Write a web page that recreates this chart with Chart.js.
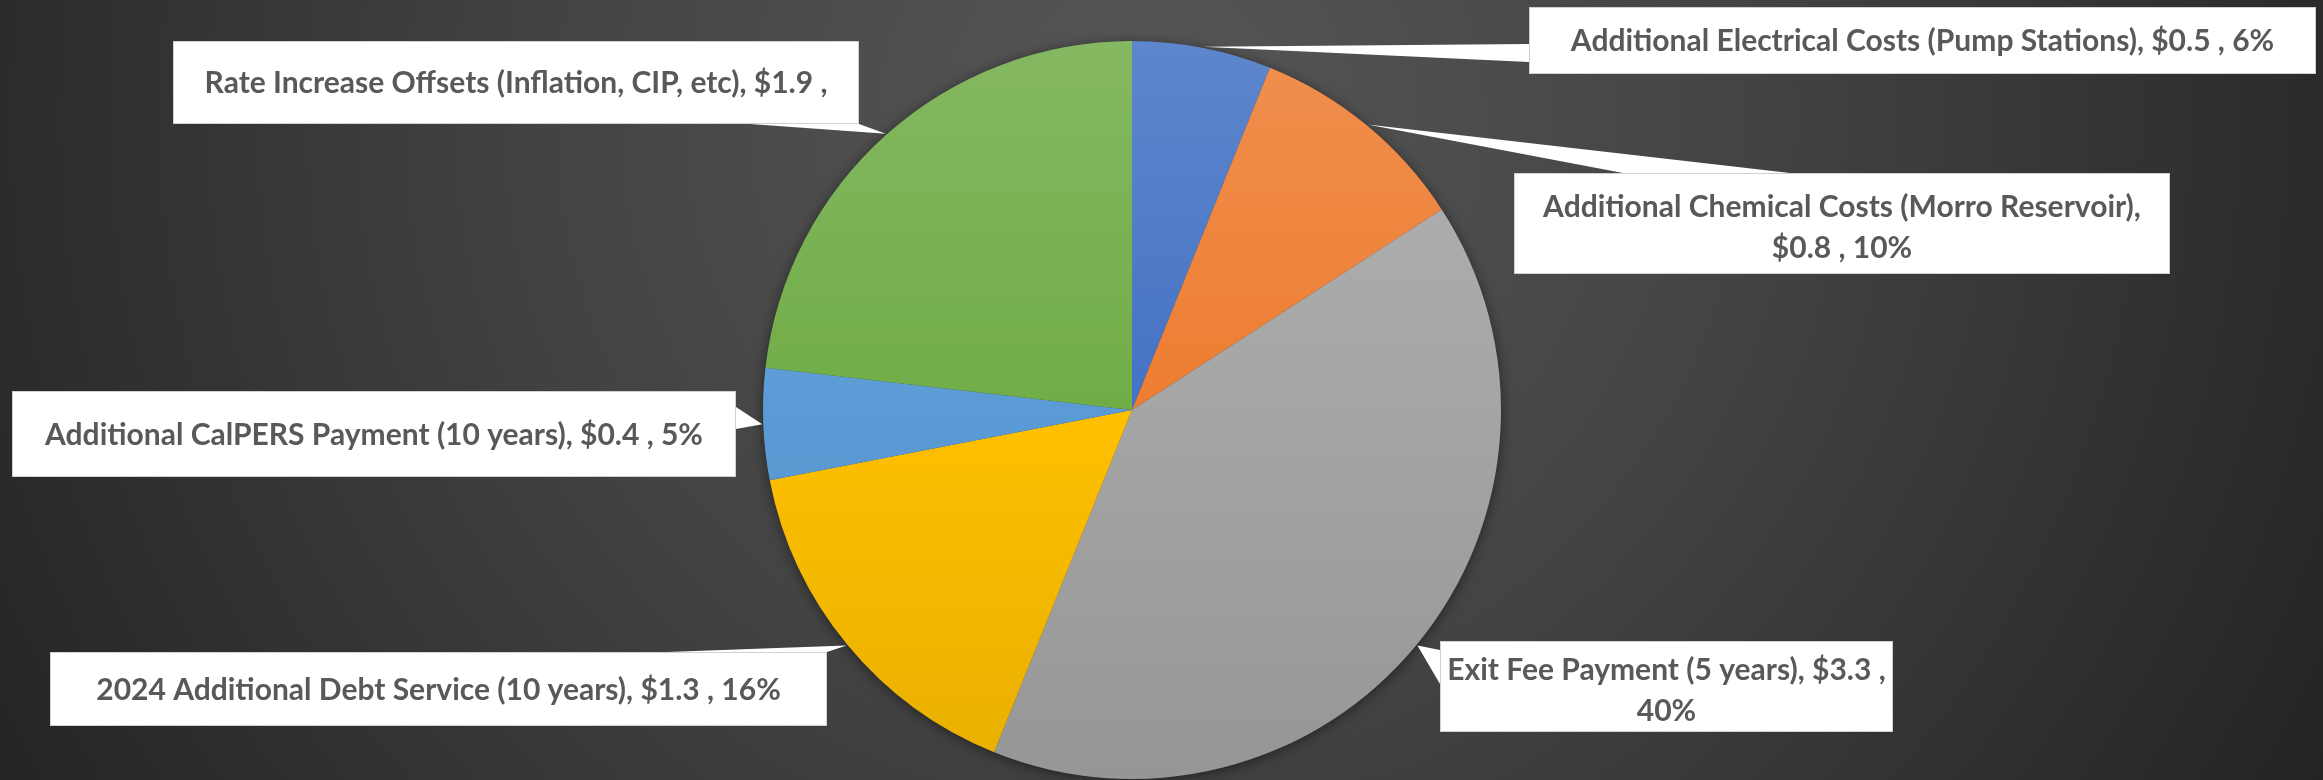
<!DOCTYPE html>
<html>
<head>
<meta charset="utf-8">
<script src="https://cdn.jsdelivr.net/npm/chart.js@4/dist/chart.umd.min.js"></script>
<style>
  html, body { margin: 0; padding: 0; background: #333; }
  #wrap { position: relative; width: 2323px; height: 780px; }
</style>
</head>
<body>
<div id="wrap"><canvas id="c"></canvas></div>
<script>
const categories = [
  "Additional Electrical Costs (Pump Stations)",
  "Additional Chemical Costs (Morro Reservoir)",
  "Exit Fee Payment (5 years)",
  "2024 Additional Debt Service (10 years)",
  "Additional CalPERS Payment (10 years)",
  "Rate Increase Offsets (Inflation, CIP, etc)"
];
const values = [0.5, 0.8, 3.3, 1.3, 0.4, 1.9];
const percentLabels = ["6%", "10%", "40%", "16%", "5%", ""];
const sliceColors = ["#4472C4", "#ED7D31", "#A5A5A5", "#FFC000", "#5B9BD5", "#70AD47"];

// value and its trailing comma are kept together with a non-breaking space
const labelTexts = categories.map((c, i) => (c + ", $" + values[i].toFixed(1) + "\u00A0, " + percentLabels[i]).trim());

// callout boxes: [x, y, w, h], pointer base points
const callouts = [
  { box: [1529, 7, 787, 67],  base: [[1529, 44], [1529, 62]] },
  { box: [1514, 173, 656, 101], base: [[1623, 173], [1790, 173]] },
  { box: [1440, 641, 453, 91], base: [[1440, 650], [1440, 684]] },
  { box: [50, 652, 777, 74],  base: [[667, 652], [827, 652]] },
  { box: [12, 391, 724, 86],  base: [[736, 407], [736, 429]] },
  { box: [173, 41, 686, 83],  base: [[750, 124], [859, 124]] }
];

function hexToRgb(h) {
  const n = parseInt(h.slice(1), 16);
  return [(n >> 16) & 255, (n >> 8) & 255, n & 255];
}
function mix(h, target, t) {
  const c = hexToRgb(h);
  return "rgb(" + c.map(v => Math.round(v + (target - v) * t)).join(",") + ")";
}

const FONT_FAMILY = 'Lato, "Open Sans", sans-serif';

const bgPlugin = {
  id: 'bg',
  beforeDraw(chart) {
    const ctx = chart.ctx;
    const W = chart.width, H = chart.height;
    ctx.save();
    const g = ctx.createRadialGradient(1150, 120, 0, 1150, 120, 1350);
    g.addColorStop(0, '#575757');
    g.addColorStop(0.45, '#434343');
    g.addColorStop(1, '#232323');
    ctx.fillStyle = g;
    ctx.fillRect(0, 0, W, H);
    ctx.restore();
  },
  beforeDatasetsDraw(chart) {
    const arc = chart.getDatasetMeta(0).data[0];
    if (!arc) return;
    const ctx = chart.ctx;
    ctx.save();
    ctx.shadowColor = 'rgba(0,0,0,0.55)';
    ctx.shadowBlur = 14;
    ctx.shadowOffsetY = 2;
    ctx.fillStyle = '#444';
    ctx.beginPath();
    ctx.arc(arc.x, arc.y, arc.outerRadius - 1, 0, Math.PI * 2);
    ctx.fill();
    ctx.restore();
  }
};

function wrapText(ctx, text, maxW) {
  const words = text.split(' ');
  const lines = [];
  let cur = '';
  for (const w of words) {
    const test = cur ? cur + ' ' + w : w;
    if (ctx.measureText(test).width > maxW && cur) {
      lines.push(cur);
      cur = w;
    } else cur = test;
  }
  if (cur) lines.push(cur);
  return lines;
}

const calloutPlugin = {
  id: 'callouts',
  afterDatasetsDraw(chart) {
    const ctx = chart.ctx;
    const arcs = chart.getDatasetMeta(0).data;
    ctx.save();
    ctx.font = 'bold 30px ' + FONT_FAMILY;
    arcs.forEach((arc, i) => {
      const co = callouts[i];
      const mid = (arc.startAngle + arc.endAngle) / 2;
      const tx = arc.x + Math.cos(mid) * (arc.outerRadius + 1);
      const ty = arc.y + Math.sin(mid) * (arc.outerRadius + 1);
      const [bx, by, bw, bh] = co.box;
      // pointer
      ctx.fillStyle = '#ffffff';
      ctx.beginPath();
      ctx.moveTo(tx, ty);
      ctx.lineTo(co.base[0][0], co.base[0][1]);
      ctx.lineTo(co.base[1][0], co.base[1][1]);
      ctx.closePath();
      ctx.fill();
      // box
      ctx.fillRect(bx, by, bw, bh);
      ctx.strokeStyle = '#d0d0d0';
      ctx.lineWidth = 1;
      ctx.strokeRect(bx + 0.5, by + 0.5, bw - 1, bh - 1);
      // text
      ctx.fillStyle = '#595959';
      ctx.textAlign = 'center';
      ctx.textBaseline = 'middle';
      const lines = wrapText(ctx, labelTexts[i], bw - 4);
      const lh = 41;
      const cy = by + bh / 2 + (lines.length > 1 ? 4 : 1);
      lines.forEach((ln, k) => {
        ctx.fillText(ln, bx + bw / 2, cy + (k - (lines.length - 1) / 2) * lh);
      });
    });
    ctx.restore();
  }
};

new Chart(document.getElementById('c'), {
  type: 'pie',
  data: {
    labels: categories,
    datasets: [{
      data: values,
      backgroundColor: (c) => {
        const base = sliceColors[c.dataIndex];
        const area = c.chart.chartArea;
        if (!area) return base;
        const g = c.chart.ctx.createLinearGradient(0, area.top, 0, area.bottom);
        g.addColorStop(0, mix(base, 255, 0.14));
        g.addColorStop(0.5, mix(base, 0, 0.0));
        g.addColorStop(1, mix(base, 0, 0.09));
        return g;
      },
      borderWidth: 0,
      hoverOffset: 0,
      offset: 0
    }]
  },
  options: {
    responsive: true,
    maintainAspectRatio: false,
    animation: false,
    events: [],
    layout: { padding: { left: 763, right: 822, top: 41, bottom: 1 } },
    plugins: {
      legend: { display: false },
      tooltip: { enabled: false },
      title: { display: false }
    }
  },
  plugins: [bgPlugin, calloutPlugin]
});
</script>
</body>
</html>
